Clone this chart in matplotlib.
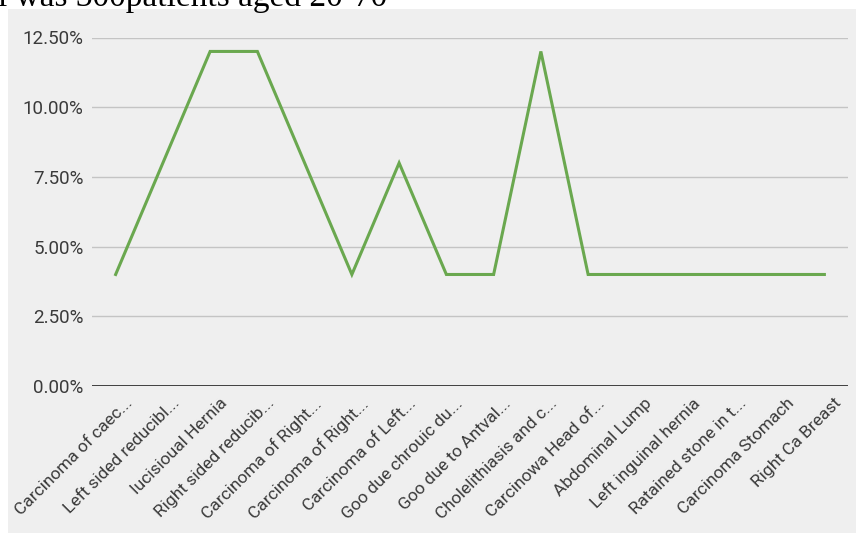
import matplotlib.pyplot as plt
import matplotlib.transforms as mtransforms
from matplotlib.ticker import FuncFormatter, MultipleLocator

# categories and share of patients (%)
categories = [
    "Carcinoma of caec...", "Left sided reducibl...", "Iucisioual Hernia",
    "Right sided reducib...", "Carcinoma of Right...", "Carcinoma of Right...",
    "Carcinoma of Left...", "Goo due chrouic du...", "Goo due to Antval...",
    "Cholelithiasis and c...", "Carcinowa Head of...", "Abdominal Lump",
    "Left inguinal hernia", "Ratained stone in t...", "Carcinoma Stomach",
    "Right Ca Breast",
]
values = [4, 8, 12, 12, 8, 4, 8, 4, 4, 12, 4, 4, 4, 4, 4, 4]

bg = "#efefef"
plt.rcParams['font.family'] = ['Roboto', 'DejaVu Sans']

fig = plt.figure(figsize=(8.58, 5.33), dpi=100)
fig.patch.set_facecolor("white")

# grey chart panel (the chart is a screenshot inside a document page)
panel_ax = fig.add_axes([8 / 858, 0, 848 / 858, 1 - 9 / 533], zorder=-1)
panel_ax.set_facecolor(bg)
panel_ax.set_xticks([])
panel_ax.set_yticks([])
for s in panel_ax.spines.values():
    s.set_visible(False)

# cut-off line of document text above the chart
fig.text(-0.002, 1 - 6 / 533, "l was 300patients aged 20-70", family="Liberation Serif",
         fontsize=24, va="baseline", ha="left", color="black")

ax = fig.add_axes([92 / 858, 1 - 386 / 533, (848 - 92) / 858, (386 - 37.5) / 533])
ax.set_facecolor(bg)

x = list(range(len(categories)))
ax.plot(x, values, color="#6aa84f", linewidth=2.2, solid_joinstyle="miter", zorder=3)

ax.set_xlim(-0.5, len(categories) - 0.5)
ax.set_ylim(0, 12.5)
ax.yaxis.set_major_locator(MultipleLocator(2.5))
ax.yaxis.set_major_formatter(FuncFormatter(lambda v, p: f"{v:.2f}%"))
ax.grid(axis="y", color="#c4c4c4", linewidth=1)
ax.axhline(0, color="#333333", linewidth=1.3, zorder=2)

for s in ax.spines.values():
    s.set_visible(False)
ax.tick_params(axis="y", length=0, pad=6, labelsize=13.5, labelcolor="#3a3a3a")
ax.tick_params(axis="x", length=0, pad=4, labelsize=12.5, labelcolor="#3a3a3a")
ax.set_xticks(x)
ax.set_xticklabels(categories, rotation=45, ha="right", va="top", rotation_mode="anchor")

# labels sit a little to the right of their ticks, as in the original
shift = mtransforms.ScaledTranslation(9 / 100, -4 / 100, fig.dpi_scale_trans)
for lab in ax.get_xticklabels():
    lab.set_transform(lab.get_transform() + shift)

fig.savefig("out.png", dpi=100, facecolor="white")
